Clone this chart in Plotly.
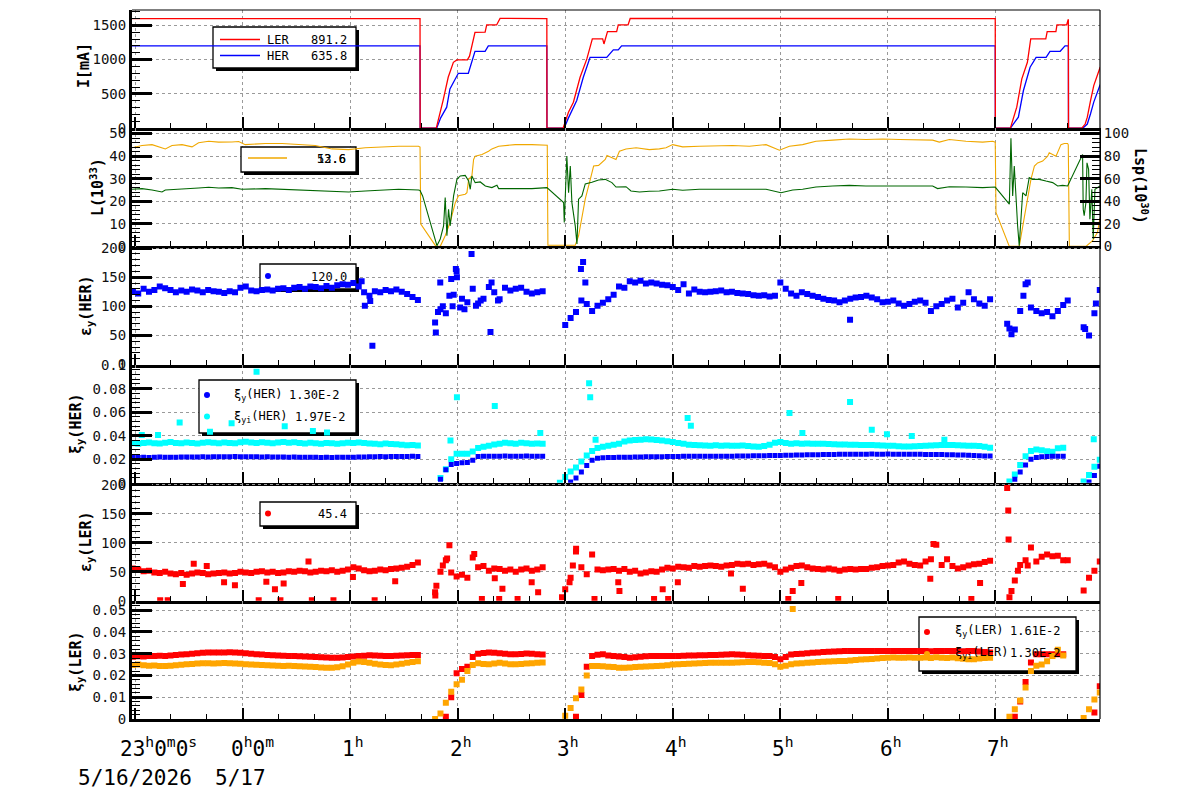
import plotly.graph_objects as go

# ---------------- data : time in hours after 23:00 on 5/16/2026 ----------------
DT = 0.05                                   # sampling step of the scatter monitors (h)
SEG_T0 = [-0.02, 2.79, 3.95, 8.13, 8.82]    # start of each beam-on segment (h)

# beam currents (mA)
LER_CUR = [(-0.028, 1598), (2.65, 1598), (2.651, 0), (2.801, 0), (2.864, 403), (2.912, 742), (2.96, 960),
           (2.993, 995), (3.09, 995), (3.11, 1050), (3.161, 1397), (3.255, 1400), (3.27, 1505), (3.362, 1505),
           (3.394, 1600), (3.829, 1598), (3.83, 0), (3.98, 0), (4.03, 233), (4.076, 378), (4.138, 742),
           (4.201, 1010), (4.252, 1301), (4.348, 1301), (4.36, 1228), (4.375, 1301), (4.393, 1407),
           (4.478, 1407), (4.493, 1505), (4.584, 1505), (4.604, 1600), (7.998, 1598), (7.999, 0), (8.139, 0),
           (8.198, 306), (8.245, 719), (8.297, 960), (8.328, 1301), (8.468, 1301), (8.481, 1407), (8.562, 1407),
           (8.572, 1505), (8.662, 1505), (8.675, 1577), (8.678, 1577), (8.679, 0), (8.803, 0), (8.834, 60),
           (8.854, 160), (8.884, 400), (8.914, 620), (8.974, 891)]
HER_CUR = [(-0.028, 1200), (2.65, 1200), (2.651, 0), (2.805, 0), (2.842, 150), (2.898, 306), (2.928, 573),
           (3.006, 800), (3.099, 800), (3.161, 1121), (3.255, 1121), (3.285, 1200), (3.829, 1200), (3.83, 0),
           (3.99, 0), (4.03, 150), (4.107, 403), (4.168, 742), (4.231, 1033), (4.386, 1033), (4.447, 1141),
           (4.493, 1141), (4.524, 1200), (7.998, 1200), (7.999, 0), (8.139, 0), (8.213, 160), (8.26, 549),
           (8.322, 888), (8.378, 1033), (8.471, 1033), (8.507, 1121), (8.602, 1121), (8.647, 1200),
           (8.678, 1200), (8.679, 0), (8.813, 0), (8.854, 60), (8.884, 210), (8.914, 380), (8.974, 636)]

# luminosity L (1e33) and specific luminosity Lsp (1e30)
LUM = [(-0.028, 43.7), (0.065, 44.7), (0.158, 45.1), (0.22, 44.1), (0.282, 43.2), (0.344, 44.7), (0.437, 45.1),
       (0.53, 44.1), (0.591, 45.9), (0.685, 46.6), (0.778, 46.2), (0.901, 46.3), (0.964, 46.5), (1.025, 45.1),
       (1.212, 45.6), (1.367, 45.6), (1.521, 45.1), (1.676, 44.7), (1.831, 43.2), (1.986, 42.9), (2.141, 43.7),
       (2.296, 44.1), (2.451, 44.4), (2.636, 44.4), (2.65, 44.0), (2.657, 9.9), (2.798, 0), (2.838, 0),
       (2.884, 4.7), (2.93, 10.6), (2.978, 19.4), (3.008, 22.4), (3.07, 23.1), (3.086, 23.8), (3.102, 29.7),
       (3.132, 31.2), (3.148, 38.5), (3.163, 40.0), (3.226, 40.7), (3.287, 42.2), (3.318, 43.2), (3.381, 44.4),
       (3.535, 45.1), (3.69, 45.1), (3.827, 45.1), (3.833, 44.8), (3.839, 0.5), (4.093, 0.5), (4.124, 4.7),
       (4.155, 12.0), (4.186, 20.9), (4.233, 29.7), (4.264, 35.6), (4.31, 35.9), (4.372, 38.5), (4.388, 40.3),
       (4.434, 39.4), (4.472, 38.5), (4.504, 42.2), (4.565, 43.2), (4.659, 43.7), (4.782, 42.9), (4.875, 43.2),
       (4.937, 43.7), (4.999, 45.1), (5.092, 44.1), (5.247, 44.4), (5.402, 44.7), (5.557, 44.7), (5.712, 44.4),
       (5.867, 45.1), (5.991, 42.6), (6.084, 44.4), (6.207, 45.1), (6.331, 46.6), (6.486, 47.1), (6.641, 47.6),
       (6.796, 47.4), (6.952, 47.6), (7.107, 47.4), (7.261, 47.4), (7.416, 47.1), (7.478, 46.2), (7.571, 47.4),
       (7.726, 46.6), (7.881, 46.2), (7.974, 46.6), (7.998, 46.2), (8.005, 15.0), (8.129, 0), (8.221, 0),
       (8.284, 16.5), (8.33, 29.7), (8.362, 35.6), (8.392, 37.0), (8.439, 37.8), (8.485, 40.0), (8.5, 41.5),
       (8.563, 40.0), (8.609, 45.1), (8.64, 45.6), (8.671, 45.6), (8.677, 45.0), (8.687, 0), (8.841, 0),
       (8.903, 2.5), (8.949, 6.2), (8.972, 12.6)]
LSP = [(-0.028, 50.6), (0.065, 51.2), (0.158, 50.0), (0.251, 48.2), (0.282, 50.0), (0.437, 50.6), (0.591, 51.8),
       (0.685, 52.4), (0.778, 51.8), (0.901, 52.1), (0.994, 50.6), (1.212, 51.2), (1.367, 50.6), (1.521, 50.6),
       (1.676, 50.0), (1.831, 49.1), (1.986, 48.2), (2.141, 49.1), (2.296, 49.7), (2.451, 50.6), (2.636, 50.0),
       (2.65, 49.5), (2.674, 44.7), (2.807, 0.6), (2.838, 6.5), (2.869, 18.2), (2.884, 43.2), (2.9, 9.4),
       (2.915, 32.9), (2.93, 18.2), (2.962, 44.7), (2.993, 59.4), (3.024, 62.4), (3.07, 62.9), (3.102, 57.9),
       (3.117, 50.6), (3.132, 62.4), (3.163, 56.5), (3.21, 57.1), (3.257, 53.5), (3.318, 52.1), (3.365, 54.1),
       (3.381, 51.2), (3.535, 51.2), (3.69, 51.2), (3.83, 52.1), (3.985, 38.8), (3.991, 21.2), (4.0, 40.3),
       (4.015, 80.0), (4.031, 47.6), (4.047, 71.2), (4.062, 38.8), (4.093, 18.2), (4.109, 2.1), (4.124, 41.8),
       (4.155, 44.7), (4.186, 55.3), (4.248, 56.8), (4.31, 58.8), (4.372, 59.4), (4.434, 56.5), (4.472, 52.6),
       (4.565, 52.9), (4.611, 49.1), (4.69, 48.2), (4.782, 48.8), (4.875, 49.1), (4.999, 50.6), (5.092, 49.7),
       (5.247, 50.6), (5.402, 50.6), (5.557, 50.6), (5.712, 50.6), (5.867, 50.6), (6.006, 47.6), (6.115, 50.0),
       (6.207, 50.6), (6.331, 52.6), (6.486, 53.5), (6.641, 54.1), (6.796, 53.5), (6.952, 53.5), (7.107, 53.5),
       (7.261, 54.1), (7.416, 53.5), (7.462, 51.2), (7.571, 52.9), (7.726, 52.6), (7.881, 52.1), (7.998, 52.6),
       (8.129, 37.4), (8.144, 95.9), (8.16, 44.7), (8.175, 71.2), (8.19, 41.8), (8.206, 18.2), (8.221, 0.6),
       (8.237, 21.2), (8.253, 47.6), (8.284, 44.7), (8.314, 60.9), (8.345, 59.4), (8.408, 59.4), (8.469, 57.9),
       (8.532, 56.5), (8.578, 53.5), (8.624, 54.1), (8.671, 53.5), (8.81, 81.5), (8.816, 33.0), (8.825, 27.1),
       (8.841, 38.8), (8.851, 74.1), (8.866, 68.2), (8.878, 24.1), (8.896, 50.6), (8.909, 6.5), (8.925, 50.6),
       (8.949, 52.1), (8.972, 53.5)]

# vertical emittance HER (pm), one list per beam-on segment
EPS_HER_A = [126, 122, 130, 125, 128, 134, 131, 128, 124, 127, 125, 129, 127, 124, 128, 126, 125, 123, 126, 124,
             132, 134, 127, 126, 128, 129, 127, 130, 131, 128, 132, 133, 130, 134, 133, 131, 135, 132, 136, 138,
             137, 140, 134, 124, 118, 126, 124, 128, 126, 129, 125, 121, 116, 111]
EPS_HER_B = [72, 95, 88, 147, 160, 113, 107, 130, 105, 113, 133, 124, 112, 132, 127, 130, 132, 125, 122, 124, 126]
EPS_HER_C = [None, 68, 80, 90, 110, 104, 92, 101, 106, 112, 120, 134, 132, 143, 141, 144, 139, 141, 139, 137,
             136, 133, 128, 138, 122, 129, 125, 124, 125, 126, 127, 124, 125, 123, 122, 121, 119, 118, 119, 117,
             118, 141, 130, 122, 118, 124, 121, 118, 116, 113, 111, 110, 107, 110, 113, 115, 116, 118, 115, 112,
             107, 108, 110, 105, 101, 104, 108, 110, 106, 92, 100, 104, 110, 113, 98, 106, 124, 112, 105, 101, 112]
EPS_HER_D = [62, 60, 92, 138, 98, 92, 88, 90, 83, 92, 102]
EPS_HER_E = [64, 50, 88, 128]
EPS_HER_X = [(2.107, 143), (2.137, 101), (2.187, 109), (2.207, 32), (2.797, 55), (2.817, 90), (2.838, 141),
             (2.862, 100), (2.923, 118), (2.953, 100), (2.963, 120), (2.983, 164), (2.993, 150), (3.023, 98),
             (3.063, 95), (3.129, 190), (3.17, 101), (3.214, 110), (3.305, 56), (3.315, 141), (3.375, 110),
             (4.146, 164), (4.166, 176), (4.187, 141), (6.648, 77), (8.109, 70), (8.149, 52), (8.26, 118),
             (8.3, 141), (8.672, 110), (8.834, 61), (8.934, 105)]

# beam-beam parameter HER
XI_HER_A = [0.0216, 0.0214, 0.0217, 0.0215, 0.0216, 0.0218, 0.0217, 0.0216, 0.0217, 0.0218,
            0.0219, 0.0218, 0.0219, 0.0220, 0.0219, 0.0220, 0.0221, 0.0220, 0.0221, 0.0222,
            0.0221, 0.0220, 0.0221, 0.0220, 0.0219, 0.0220, 0.0219, 0.0218, 0.0218, 0.0217,
            0.0218, 0.0217, 0.0216, 0.0217, 0.0216, 0.0215, 0.0216, 0.0215, 0.0216, 0.0217,
            0.0216, 0.0217, 0.0218, 0.0219, 0.0220, 0.0221, 0.0222, 0.0221, 0.0222, 0.0223,
            0.0222, 0.0223, 0.0224, 0.0223]
XI_HER_B = [None, 0.0030, 0.0110, 0.0155, 0.0163, 0.0170, 0.0172, 0.0190, 0.0222, 0.0224, 0.0225, 0.0224,
            0.0225, 0.0226, 0.0225, 0.0224, 0.0225, 0.0226, 0.0225, 0.0224, 0.0225]
XI_HER_C = [None, None, 0.0005, 0.0040, 0.0090, 0.0145, 0.0190, 0.0208, 0.0211, 0.0213,
            0.0215, 0.0216, 0.0217, 0.0217, 0.0218, 0.0219, 0.0220, 0.0220, 0.0221, 0.0221,
            0.0222, 0.0222, 0.0223, 0.0224, 0.0225, 0.0225, 0.0224, 0.0225, 0.0225, 0.0224,
            0.0225, 0.0225, 0.0225, 0.0226, 0.0226, 0.0227, 0.0228, 0.0228, 0.0229, 0.0230,
            0.0231, 0.0232, 0.0233, 0.0234, 0.0235, 0.0236, 0.0237, 0.0238, 0.0238, 0.0239,
            0.0240, 0.0240, 0.0241, 0.0241, 0.0242, 0.0242, 0.0242, 0.0242, 0.0243, 0.0242,
            0.0242, 0.0243, 0.0242, 0.0242, 0.0242, 0.0242, 0.0241, 0.0241, 0.0240, 0.0240,
            0.0239, 0.0239, 0.0238, 0.0237, 0.0236, 0.0235, 0.0233, 0.0231, 0.0229, 0.0227, 0.0226]
XI_HER_D = [None, 0.0030, 0.0090, 0.0150, 0.0200, 0.0215, 0.0221, 0.0223, 0.0224, 0.0225, 0.0225]
XI_HER_E = [None, 0.0005, 0.0060, 0.0140]

XI_HERI_A = [0.0335, 0.0330, 0.0338, 0.0342, 0.0336, 0.0334, 0.0340, 0.0345, 0.0338, 0.0335,
             0.0341, 0.0337, 0.0333, 0.0339, 0.0344, 0.0340, 0.0336, 0.0342, 0.0338, 0.0335,
             0.0343, 0.0347, 0.0341, 0.0338, 0.0344, 0.0340, 0.0336, 0.0341, 0.0345, 0.0339,
             0.0343, 0.0338, 0.0334, 0.0340, 0.0336, 0.0332, 0.0338, 0.0335, 0.0331, 0.0336,
             0.0340, 0.0337, 0.0342, 0.0338, 0.0334, 0.0330, 0.0327, 0.0333, 0.0329, 0.0326,
             0.0322, 0.0318, 0.0320, 0.0316]
XI_HERI_B = [None, 0.0040, 0.0115, 0.0200, 0.0245, 0.0245, 0.0246, 0.0265, 0.0295, 0.0305, 0.0315, 0.0325,
             0.0332, 0.0340, 0.0336, 0.0332, 0.0340, 0.0335, 0.0332, 0.0333, 0.0330]
XI_HERI_C = [0.0000, 0.0048, 0.0095, 0.0130, 0.0180, 0.0230, 0.0270, 0.0295, 0.0305, 0.0313,
             0.0322, 0.0330, 0.0350, 0.0358, 0.0362, 0.0365, 0.0370, 0.0368, 0.0362, 0.0358,
             0.0352, 0.0345, 0.0338, 0.0330, 0.0322, 0.0320, 0.0318, 0.0316, 0.0315, 0.0318,
             0.0315, 0.0316, 0.0315, 0.0313, 0.0316, 0.0311, 0.0308, 0.0306, 0.0312, 0.0322,
             0.0340, 0.0345, 0.0338, 0.0332, 0.0335, 0.0330, 0.0333, 0.0331, 0.0332, 0.0330,
             0.0328, 0.0326, 0.0325, 0.0324, 0.0323, 0.0322, 0.0321, 0.0320, 0.0321, 0.0318,
             0.0316, 0.0315, 0.0314, 0.0310, 0.0308, 0.0307, 0.0310, 0.0312, 0.0315, 0.0316,
             0.0318, 0.0320, 0.0321, 0.0320, 0.0318, 0.0316, 0.0315, 0.0314, 0.0312, 0.0305, 0.0298]
XI_HERI_D = [0.0010, 0.0070, 0.0150, 0.0225, 0.0270, 0.0282, 0.0275, 0.0268, 0.0262, 0.0292, 0.0298]
XI_HERI_E = [0.0010, 0.0065, 0.0135, 0.0195]
XI_HERI_X = [(0.063, 0.0406), (0.214, 0.0406), (0.415, 0.0512), (0.697, 0.0434), (0.898, 0.0506),
             (1.13, 0.0944), (1.392, 0.048), (1.654, 0.044), (1.785, 0.0426), (2.993, 0.0727), (3.345, 0.0653),
             (2.933, 0.0358), (3.768, 0.0422), (4.222, 0.0845), (4.232, 0.0727), (5.138, 0.0549), (5.168, 0.0484),
             (6.085, 0.0592), (6.648, 0.0687), (6.85, 0.0451), (6.205, 0.0422), (6.991, 0.0411), (7.222, 0.0397),
             (7.525, 0.0366), (4.282, 0.0366), (8.914, 0.037)]

# vertical emittance LER (pm)
EPS_LER_A = [56, 54, 51, 52, 49, 48, 50, 47, 46, 48, 45, 47, 49, 48, 46, 47, 48, 49, 47, 48,
             50, 49, 48, 50, 51, 49, 50, 48, 49, 51, 50, 52, 51, 49, 50, 52, 51, 53, 50, 52,
             54, 58, 56, 53, 51, 52, 54, 53, 55, 56, 57, 59, 62, 66]
EPS_LER_B = [15, 50, 70, 49, 42, 45, 40, 75, 58, 60, 52, 56, 55, 52, 54, 50, 54, 56, 52, 54, 58]
EPS_LER_C = [None, 20, 40, 85, 58, 46, 80, 54, 53, 54, 55, 52, 55, 50, 52, 47, 49, 51, 50, 54,
             57, 56, 59, 58, 57, 60, 59, 60, 61, 60, 59, 61, 62, 64, 63, 64, 62, 63, 64, 61,
             58, 50, 54, 57, 60, 61, 58, 56, 55, 54, 56, 54, 52, 54, 55, 54, 55, 55, 57, 58,
             60, 61, 62, 66, 68, 64, 62, 61, 68, 72, 97, 62, 72, 60, 56, 58, 61, 63, 64, 67, 69]
EPS_LER_D = [6, 35, 62, 70, 92, 68, 76, 80, 77, 78, 70]
EPS_LER_E = [18, 40, 52, 68]
EPS_LER_X = [(0.234, 1), (0.304, 1), (1.15, 1), (1.352, 1), (1.644, 1), (1.845, 1), (2.228, 1), (0.445, 29),
             (0.828, 32), (0.929, 27), (1.221, 33), (1.301, 20), (1.382, 30), (1.613, 68), (0.546, 64),
             (0.667, 60), (2.026, 41), (2.419, 34), (2.792, 9), (2.802, 26), (2.862, 61), (2.902, 73),
             (2.923, 96), (3.154, 81), (3.225, 3), (3.386, 3), (3.557, 3), (3.416, 21), (3.688, 32), (3.748, 15),
             (3.345, 39), (3.97, 6), (4.04, 32), (4.071, 61), (4.101, 90), (4.272, 3), (4.504, 17), (4.493, 32),
             (4.826, 3), (4.906, 20), (4.957, 3), (5.047, 32), (5.541, 47), (5.651, 21), (6.074, 3), (6.115, 17),
             (6.195, 31), (6.538, 3), (7.394, 38), (7.776, 3), (7.857, 31), (7.424, 98), (8.109, 195),
             (8.119, 156), (8.122, 106), (8.149, 17), (8.209, 52), (8.3, 61), (8.672, 70)]

# beam-beam parameter LER
XI_LER_A = [0.0286, 0.0288, 0.0287, 0.0289, 0.0290, 0.0291, 0.0290, 0.0292, 0.0294, 0.0296,
            0.0298, 0.0300, 0.0302, 0.0304, 0.0305, 0.0306, 0.0305, 0.0306, 0.0307, 0.0306,
            0.0304, 0.0302, 0.0300, 0.0298, 0.0296, 0.0294, 0.0293, 0.0292, 0.0291, 0.0290,
            0.0289, 0.0288, 0.0287, 0.0286, 0.0285, 0.0284, 0.0283, 0.0282, 0.0282, 0.0283,
            0.0285, 0.0287, 0.0289, 0.0291, 0.0293, 0.0292, 0.0291, 0.0290, 0.0290, 0.0291,
            0.0292, 0.0293, 0.0294, 0.0294]
XI_LER_B = [None, None, 0.0010, 0.0100, 0.0210, 0.0230, 0.0240, 0.0285, 0.0300, 0.0303, 0.0305, 0.0304,
            0.0302, 0.0300, 0.0298, 0.0297, 0.0299, 0.0301, 0.0300, 0.0298, 0.0296]
XI_LER_C = [None, None, None, 0.0010, 0.0110, 0.0240, 0.0289, 0.0295, 0.0297, 0.0292,
            0.0289, 0.0287, 0.0285, 0.0282, 0.0284, 0.0286, 0.0288, 0.0289, 0.0289, 0.0289,
            0.0289, 0.0290, 0.0290, 0.0291, 0.0292, 0.0292, 0.0293, 0.0293, 0.0294, 0.0294,
            0.0295, 0.0296, 0.0297, 0.0296, 0.0295, 0.0293, 0.0292, 0.0291, 0.0290, 0.0289,
            0.0285, 0.0275, 0.0285, 0.0296, 0.0299, 0.0300, 0.0302, 0.0304, 0.0306, 0.0308,
            0.0309, 0.0310, 0.0311, 0.0312, 0.0312, 0.0313, 0.0312, 0.0313, 0.0312, 0.0312,
            0.0313, 0.0312, 0.0312, 0.0313, 0.0312, 0.0312, 0.0313, 0.0312, 0.0312, 0.0311,
            0.0312, 0.0312, 0.0313, 0.0312, 0.0312, 0.0311, 0.0312, 0.0312, 0.0310, 0.0308, 0.0305]
XI_LER_D = [None, 0.0010, 0.0080, 0.0170, 0.0260, 0.0297, 0.0297, 0.0297, 0.0298, 0.0297, 0.0297]
XI_LER_E = [None, None, 0.0030, 0.0150]

XI_LERI_A = [0.0248, 0.0250, 0.0247, 0.0245, 0.0246, 0.0244, 0.0243, 0.0245, 0.0247, 0.0249,
             0.0251, 0.0253, 0.0255, 0.0256, 0.0256, 0.0255, 0.0256, 0.0257, 0.0256, 0.0255,
             0.0254, 0.0252, 0.0250, 0.0249, 0.0248, 0.0247, 0.0246, 0.0245, 0.0244, 0.0245,
             0.0243, 0.0242, 0.0241, 0.0240, 0.0239, 0.0237, 0.0236, 0.0236, 0.0238, 0.0242,
             0.0250, 0.0258, 0.0264, 0.0262, 0.0258, 0.0254, 0.0250, 0.0248, 0.0247, 0.0250,
             0.0254, 0.0258, 0.0262, 0.0265]
XI_LERI_B = [0.0000, 0.0025, 0.0075, 0.0125, 0.0160, 0.0180, 0.0220, 0.0248, 0.0256, 0.0253, 0.0251, 0.0255,
             0.0258, 0.0255, 0.0252, 0.0251, 0.0253, 0.0255, 0.0256, 0.0258, 0.0260]
XI_LERI_C = [None, 0.0015, 0.0050, 0.0095, 0.0135, 0.0200, 0.0243, 0.0243, 0.0242, 0.0240,
             0.0239, 0.0236, 0.0235, 0.0237, 0.0239, 0.0240, 0.0241, 0.0242, 0.0243, 0.0245,
             0.0247, 0.0250, 0.0252, 0.0253, 0.0254, 0.0255, 0.0256, 0.0257, 0.0258, 0.0258,
             0.0258, 0.0258, 0.0259, 0.0260, 0.0261, 0.0262, 0.0262, 0.0261, 0.0259, 0.0257,
             0.0252, 0.0240, 0.0245, 0.0252, 0.0255, 0.0256, 0.0258, 0.0260, 0.0262, 0.0263,
             0.0264, 0.0265, 0.0266, 0.0267, 0.0269, 0.0271, 0.0273, 0.0274, 0.0276, 0.0278,
             0.0280, 0.0282, 0.0283, 0.0282, 0.0282, 0.0283, 0.0281, 0.0282, 0.0283, 0.0280,
             0.0284, 0.0282, 0.0280, 0.0283, 0.0279, 0.0277, 0.0275, 0.0274, 0.0278, 0.0280, 0.0282]
XI_LERI_D = [0.0010, 0.0045, 0.0085, 0.0145, 0.0220, 0.0245, 0.0250, 0.0265, 0.0290, 0.0318, 0.0292]
XI_LERI_E = [0.0005, 0.0045, 0.0090, 0.0122]
XI_LERI_X = [(6.115, 0.0505)]

# tick labels of the time axis
HOUR_LABELS = ["23<sup>h</sup>0<sup>m</sup>0<sup>s</sup>", "0<sup>h</sup>0<sup>m</sup>", "1<sup>h</sup>",
               "2<sup>h</sup>", "3<sup>h</sup>", "4<sup>h</sup>", "5<sup>h</sup>", "6<sup>h</sup>", "7<sup>h</sup>"]
DATE_LABELS = ["5/16/2026", "5/17"]

# ---------------- geometry / styles ----------------
FONT = "DejaVu Sans Mono"
W, H = 1200, 798
L_PX, R_PX, T_PX, B_PX = 132, 1100, 10, 719
XR = [-0.028, 8.972]
PH = (B_PX - T_PX) / 6.0
YR = {1: [0, 1723], 2: [0, 52.4], 3: [0, 203], 4: [0, 0.1005], 5: [0, 204], 6: [0, 0.0543]}
YR_LSP = [0, 104.8]
YDT = {1: (500, 100), 2: (10, 2), 3: (50, 10), 4: (0.02, 0.004), 5: (50, 10), 6: (0.01, 0.002)}

RED, BLUE, CYAN, ORANGE, LORANGE, GREEN = "#ff0000", "#0000ff", "#00ffff", "#ffa500", "#f0a800", "#006600"


def ax(i, k):
    return k if i == 1 else f"{k}{i}"


def expand(segs, extra=()):
    xs, ys = [], []
    for t0, vals in zip(SEG_T0, segs):
        for j, v in enumerate(vals):
            if v is not None:
                xs.append(round(t0 + j * DT, 4))
                ys.append(v)
    for t, v in extra:
        xs.append(t)
        ys.append(v)
    return xs, ys


def dx(px):
    return XR[0] + (px - L_PX) / (R_PX - L_PX) * (XR[1] - XR[0])


def dy(i, py, rng=None):
    r = rng or YR[i]
    bottom = T_PX + i * PH
    return r[0] + (bottom - py) / PH * (r[1] - r[0])


def pxp(px):
    return (px - L_PX) / (R_PX - L_PX)


def pyp(py):
    return (B_PX - py) / (B_PX - T_PX)


fig = go.Figure()


def line_trace(i, pairs, color, yaxis=None, width=1.2):
    fig.add_trace(go.Scatter(x=[p[0] for p in pairs], y=[p[1] for p in pairs], mode="lines",
                             line=dict(color=color, width=width), xaxis=ax(i, "x"),
                             yaxis=yaxis or ax(i, "y"), showlegend=False, hoverinfo="skip"))


def dot_trace(i, segs, color, extra=(), size=6):
    xs, ys = expand(segs, extra)
    fig.add_trace(go.Scatter(x=xs, y=ys, mode="markers",
                             marker=dict(symbol="square", size=size, color=color, line=dict(width=0)),
                             xaxis=ax(i, "x"), yaxis=ax(i, "y"), showlegend=False, hoverinfo="skip"))


line_trace(1, HER_CUR, BLUE, width=1.3)
line_trace(1, LER_CUR, RED, width=1.3)
line_trace(2, LSP, GREEN, yaxis="y7", width=1.1)
line_trace(2, LUM, LORANGE, width=1.1)
dot_trace(3, [EPS_HER_A, EPS_HER_B, EPS_HER_C, EPS_HER_D, EPS_HER_E], BLUE, EPS_HER_X)
dot_trace(4, [XI_HERI_A, XI_HERI_B, XI_HERI_C, XI_HERI_D, XI_HERI_E], CYAN, XI_HERI_X)
dot_trace(4, [XI_HER_A, XI_HER_B, XI_HER_C, XI_HER_D, XI_HER_E], BLUE, size=5)
dot_trace(5, [EPS_LER_A, EPS_LER_B, EPS_LER_C, EPS_LER_D, EPS_LER_E], RED, EPS_LER_X)
dot_trace(6, [XI_LER_A, XI_LER_B, XI_LER_C, XI_LER_D, XI_LER_E], RED)
dot_trace(6, [XI_LERI_A, XI_LERI_B, XI_LERI_C, XI_LERI_D, XI_LERI_E], ORANGE, XI_LERI_X)

layout = dict(width=W, height=H,
              margin=dict(l=L_PX, r=W - R_PX, t=T_PX, b=H - B_PX, pad=0, autoexpand=False),
              paper_bgcolor="white", plot_bgcolor="white", showlegend=False,
              font=dict(family=FONT, size=14, color="#111"))
GRID = dict(showgrid=True, gridcolor="#9a9a9a", gridwidth=1, griddash="dot", zeroline=False, automargin=False)
for i in range(1, 7):
    layout[ax(i, "xaxis")] = dict(
        domain=[0, 1], anchor=ax(i, "y"), range=XR, tick0=0, dtick=1, ticks="inside", ticklen=11,
        tickwidth=2, tickcolor="black", showticklabels=False, showline=True, linewidth=3,
        linecolor="black", minor=dict(dtick=1 / 3, tick0=0, ticks="inside", ticklen=5, tickwidth=1,
                                      tickcolor="black", showgrid=False), **GRID)
    major, minor = YDT[i]
    layout[ax(i, "yaxis")] = dict(
        domain=[1 - i / 6, 1 - (i - 1) / 6], anchor=ax(i, "x"), range=YR[i], tick0=0, dtick=major,
        ticks="inside", ticklen=20, tickwidth=2.5, tickcolor="black", showline=True, linewidth=3,
        linecolor="black", tickfont=dict(family=FONT, size=14, color="#111"),
        minor=dict(dtick=minor, tick0=0, ticks="inside", ticklen=8, tickwidth=1, tickcolor="black",
                   showgrid=False), **GRID)
layout["yaxis7"] = dict(overlaying="y2", anchor="x2", side="right", range=YR_LSP, tick0=0, dtick=20,
                        ticks="inside", ticklen=20, tickwidth=2.5, tickcolor="black", showline=True,
                        linewidth=1, linecolor="black", showgrid=False, zeroline=False, automargin=False,
                        tickfont=dict(family=FONT, size=14, color="#111"),
                        minor=dict(dtick=4, tick0=0, ticks="inside", ticklen=8, tickwidth=1,
                                   tickcolor="black"))
fig.update_layout(**layout)

shapes = []
annots = []

# thin outer frame on right and top
shapes.append(dict(type="line", xref="paper", yref="paper", x0=1, x1=1, y0=0, y1=1,
                   line=dict(color="black", width=1.2)))
shapes.append(dict(type="line", xref="paper", yref="paper", x0=0, x1=1, y0=1, y1=1,
                   line=dict(color="black", width=1.2)))


def legend_box(i, x0, y0, x1, y1):
    xr, yr = ax(i, "x"), ax(i, "y")
    shapes.append(dict(type="rect", xref=xr, yref=yr, layer="between", x0=dx(x0 + 3), x1=dx(x1 + 3),
                       y0=dy(i, y0 + 3), y1=dy(i, y1 + 3), fillcolor="black", line=dict(width=0)))
    shapes.append(dict(type="rect", xref=xr, yref=yr, layer="between", x0=dx(x0), x1=dx(x1),
                       y0=dy(i, y0), y1=dy(i, y1), fillcolor="white", line=dict(color="black", width=1.3)))


def legend_line(i, x0, x1, y, color):
    shapes.append(dict(type="line", xref=ax(i, "x"), yref=ax(i, "y"), x0=dx(x0), x1=dx(x1),
                       y0=dy(i, y), y1=dy(i, y), line=dict(color=color, width=1.3)))


def legend_dot(i, x, y, color):
    shapes.append(dict(type="circle", xref=ax(i, "x"), yref=ax(i, "y"), x0=dx(x - 3), x1=dx(x + 3),
                       y0=dy(i, y + 3), y1=dy(i, y - 3), fillcolor=color, line=dict(width=0)))


def text(px, py, s, anchor="left", size=12):
    annots.append(dict(xref="paper", yref="paper", x=pxp(px), y=pyp(py), text=s, showarrow=False,
                       xanchor=anchor, yanchor="middle", font=dict(family=FONT, size=size, color="black")))


# panel 1 legend
legend_box(1, 213, 27, 356, 68)
legend_line(1, 220, 260, 39.5, RED)
legend_line(1, 220, 260, 55.5, BLUE)
text(265, 39.5, "LER"); text(349, 39.5, "891.2", "right")
text(265, 55.5, "HER"); text(349, 55.5, "635.8", "right")
# panel 2 legend
legend_box(2, 241, 147, 356, 172)
legend_line(2, 248, 287, 158, LORANGE)
text(348, 159, "53.6", "right"); text(348, 159, "12.6", "right")
# panel 3 legend
legend_box(3, 260, 264, 356, 289)
legend_dot(3, 268, 276, BLUE)
text(349, 276.5, "120.0", "right")
# panel 4 legend
legend_box(4, 199, 380, 356, 433)
legend_dot(4, 207, 395, BLUE)
legend_dot(4, 207, 416.5, CYAN)
text(232, 395, "ξ<sub>y</sub>(HER)"); text(342, 395, "1.30E-2", "right")
text(232, 416.5, "ξ<sub>yi</sub>(HER)"); text(348, 416.5, "1.97E-2", "right")
# panel 5 legend
legend_box(5, 260, 502, 356, 526)
legend_dot(5, 268, 513.5, RED)
text(349, 514, "45.4", "right")
# panel 6 legend
legend_box(6, 919, 617, 1076, 671)
legend_dot(6, 927, 632, RED)
legend_dot(6, 927, 654, ORANGE)
text(953, 631, "ξ<sub>y</sub>(LER)"); text(1063, 631, "1.61E-2", "right")
text(953, 653, "ξ<sub>yi</sub>(LER)"); text(1063, 653, "1.30E-2", "right")

# axis titles
def vtitle(px, py, s, angle=-90):
    annots.append(dict(xref="paper", yref="paper", x=pxp(px), y=pyp(py), text=s, showarrow=False,
                       textangle=angle, xanchor="center", yanchor="middle",
                       font=dict(family=FONT, size=15, color="black")))


vtitle(84, 66, "<b>I[mA]</b>")
vtitle(97, 187, "<b>L(10<sup>33</sup>)</b>")
vtitle(86, 306, "<b>ε<sub>y</sub>(HER)</b>")
vtitle(76, 424, "<b>ξ<sub>y</sub>(HER)</b>")
vtitle(86, 542, "<b>ε<sub>y</sub>(LER)</b>")
vtitle(76, 662, "<b>ξ<sub>y</sub>(LER)</b>")
vtitle(1141, 186, "<b>Lsp(10<sup>30</sup>)</b>", angle=90)

# time-axis labels
shifts = [23, 10, 3, 3, 3, 3, 3, 3, 3]
for k, lab in enumerate(HOUR_LABELS):
    annots.append(dict(xref="x6", yref="paper", x=k, y=pyp(747), text=lab, showarrow=False,
                       xanchor="center", yanchor="middle", xshift=shifts[k],
                       font=dict(family=FONT, size=21, color="black")))
for k, lab in enumerate(DATE_LABELS):
    annots.append(dict(xref="x6", yref="paper", x=k, y=pyp(778), text=lab, showarrow=False,
                       xanchor="center", yanchor="middle", xshift=[0, -2][k],
                       font=dict(family=FONT, size=21, color="black")))

fig.update_layout(shapes=shapes, annotations=annots)
fig.write_html("out.html")
